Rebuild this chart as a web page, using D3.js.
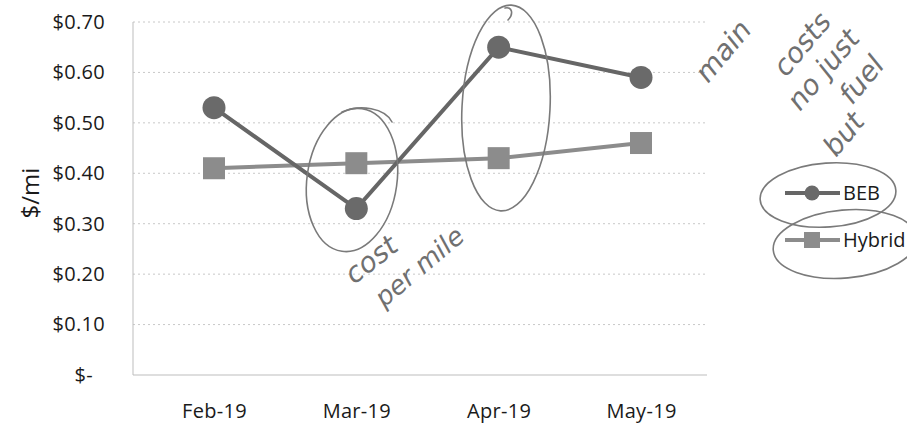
<!DOCTYPE html>
<html>
<head>
<meta charset="utf-8">
<script src="https://cdn.jsdelivr.net/npm/d3@7"></script>
<style>
  html, body { margin: 0; padding: 0; background: #fff; }
  svg { display: block; font-family: "Open Sans", "Liberation Sans", sans-serif; }
</style>
</head>
<body>
<svg id="chart" width="907" height="423"></svg>
<script>
// Monthly cost per mile
const months = ["Feb-19", "Mar-19", "Apr-19", "May-19"];
const bebValues = [0.53, 0.33, 0.65, 0.59];
const hybridValues = [0.41, 0.42, 0.43, 0.46];
const yTicks = [0, 0.1, 0.2, 0.3, 0.4, 0.5, 0.6, 0.7];
const seriesNames = ["BEB", "Hybrid"];

const svg = d3.select("#chart");
const m = { top: 22, left: 133, right: 200, bottom: 48 };
const W = 907, H = 423;

const x = d3.scalePoint().domain(months).range([214, 641]);
const y = d3.scaleLinear().domain([0, 0.7]).range([H - m.bottom, m.top]);

const fmt = v => v === 0 ? "$-" : "$" + d3.format(".2f")(v);

// gridlines
svg.append("g")
  .selectAll("line").data(yTicks.filter(v => v > 0)).join("line")
  .attr("x1", m.left).attr("x2", 707)
  .attr("y1", d => y(d)).attr("y2", d => y(d))
  .attr("stroke", "#c8c8c8").attr("stroke-width", 1)
  .attr("stroke-dasharray", "2,3");

// axis lines
svg.append("line").attr("x1", m.left).attr("x2", m.left)
  .attr("y1", y(0.7)).attr("y2", y(0))
  .attr("stroke", "#bdbdbd").attr("stroke-width", 1);
svg.append("line").attr("x1", m.left).attr("x2", 707)
  .attr("y1", y(0)).attr("y2", y(0))
  .attr("stroke", "#bdbdbd").attr("stroke-width", 1);

// y axis labels
const yAxis = d3.axisLeft(y).tickValues(yTicks).tickFormat(fmt).tickSize(0).tickPadding(28);
const gy = svg.append("g").attr("transform", `translate(${m.left},0)`).call(yAxis);
gy.select(".domain").remove();
gy.selectAll("text").attr("font-size", 20).attr("fill", "#1a1a1a")
  .attr("font-family", "Open Sans, sans-serif").attr("letter-spacing", 0.3)
  .attr("dx", d => d === 0 ? -12 : 0);

// x axis labels
const xAxis = d3.axisBottom(x).tickSize(0).tickPadding(29);
const gx = svg.append("g").attr("transform", `translate(0,${y(0)})`).call(xAxis);
gx.select(".domain").remove();
gx.selectAll("text").attr("font-size", 20).attr("fill", "#1a1a1a")
  .attr("font-family", "Open Sans, sans-serif").attr("letter-spacing", 0.3);

// y axis title
svg.append("text")
  .attr("transform", `translate(39,193) rotate(-90)`)
  .attr("text-anchor", "middle").attr("font-size", 24).attr("fill", "#1a1a1a")
  .text("$/mi");

const line = d3.line().x((d, i) => x(months[i])).y(d => y(d));

// Hybrid series
svg.append("path").datum(hybridValues).attr("d", line)
  .attr("fill", "none").attr("stroke", "#8c8c8c").attr("stroke-width", 4);
svg.append("g").selectAll("rect").data(hybridValues).join("rect")
  .attr("x", (d, i) => x(months[i]) - 11).attr("y", d => y(d) - 11)
  .attr("width", 22).attr("height", 22).attr("fill", "#8c8c8c");

// BEB series
svg.append("path").datum(bebValues).attr("d", line)
  .attr("fill", "none").attr("stroke", "#666").attr("stroke-width", 4);
svg.append("g").selectAll("circle").data(bebValues).join("circle")
  .attr("cx", (d, i) => x(months[i])).attr("cy", d => y(d)).attr("r", 11.5)
  .attr("fill", "#6a6a6a");

// legend
const leg = svg.append("g");
const legY = [193, 240];
leg.append("line").attr("x1", 785).attr("x2", 840).attr("y1", legY[0]).attr("y2", legY[0])
  .attr("stroke", "#666").attr("stroke-width", 4);
leg.append("circle").attr("cx", 812).attr("cy", legY[0]).attr("r", 7.5).attr("fill", "#6a6a6a");
leg.append("line").attr("x1", 785).attr("x2", 840).attr("y1", legY[1]).attr("y2", legY[1])
  .attr("stroke", "#8c8c8c").attr("stroke-width", 4);
leg.append("rect").attr("x", 804).attr("y", legY[1] - 8).attr("width", 16).attr("height", 16).attr("fill", "#8c8c8c");
leg.selectAll("text").data(seriesNames).join("text")
  .attr("x", 843).attr("y", (d, i) => legY[i] + 7)
  .attr("font-size", 20).attr("fill", "#1a1a1a").text(d => d);

// pen annotations
const pen = svg.append("g").attr("fill", "none").attr("stroke", "#7a7a7a")
  .attr("stroke-width", 1.6).attr("stroke-linecap", "round");
pen.append("ellipse").attr("cx", 352).attr("cy", 180).attr("rx", 45).attr("ry", 72)
  .attr("transform", "rotate(8,352,180)");
pen.append("path").attr("d", "M342,112 C360,104 385,108 392,122");
pen.append("ellipse").attr("cx", 506).attr("cy", 108).attr("rx", 44).attr("ry", 103)
  .attr("transform", "rotate(3,506,108)");
pen.append("path").attr("d", "M505,8 C512,6 514,14 508,20");
pen.append("ellipse").attr("cx", 828).attr("cy", 195).attr("rx", 68).attr("ry", 32)
  .attr("transform", "rotate(-4,828,195)");
pen.append("ellipse").attr("cx", 845).attr("cy", 244).attr("rx", 72).attr("ry", 34)
  .attr("transform", "rotate(-5,845,244)");

const hand = svg.append("g").attr("fill", "#707070")
  .attr("font-family", "DejaVu Sans, sans-serif").attr("font-style", "italic")
  .attr("font-weight", 300);
hand.append("text").attr("transform", "translate(354,285) rotate(-38)")
  .attr("font-size", 28).text("cost");
hand.append("text").attr("transform", "translate(384,308) rotate(-40)")
  .attr("font-size", 26).text("per mile");
const note = ["main", "costs", "no just", "fuel", "but"];
const noteX = [708, 786, 800, 852, 836];
const noteY = [84, 78, 112, 106, 158];
hand.selectAll("text.note").data(note).join("text").attr("class", "note")
  .attr("font-size", 28)
  .attr("transform", (d, i) => `translate(${noteX[i]},${noteY[i]}) rotate(-50)`)
  .text(d => d);
</script>
</body>
</html>
